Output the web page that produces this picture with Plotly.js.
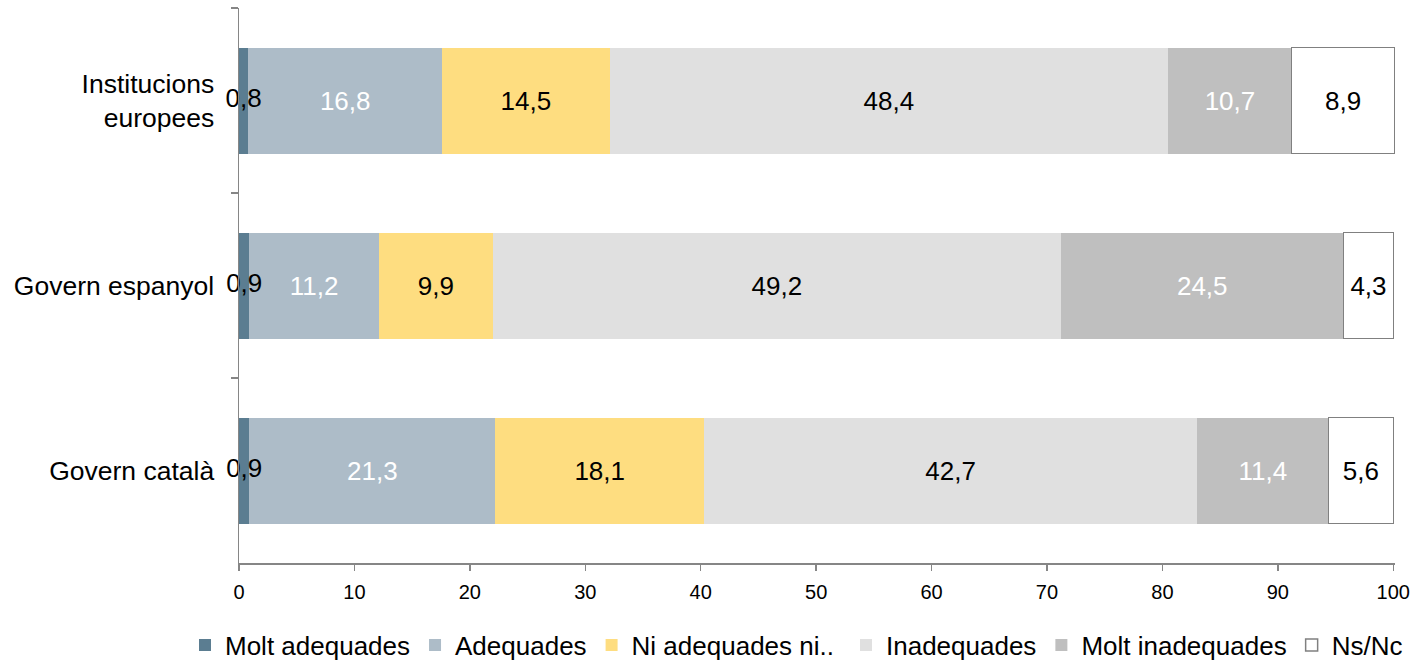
<!DOCTYPE html>
<html>
<head>
<meta charset="utf-8">
<script src="https://cdn.plot.ly/plotly-3.0.1.min.js"></script>
<style>html,body{margin:0;padding:0;background:#fff;}#chart{width:1423px;height:662px;}</style>
</head>
<body>
<div id="chart"></div>
<script>
var categories = ["Institucions<br>europees", "Govern espanyol", "Govern català"];
var seriesNames = ["Molt adequades", "Adequades", "Ni adequades ni..", "Inadequades", "Molt inadequades", "Ns/Nc"];
var moltAdequades = [0.8, 0.9, 0.9];
var adequades = [16.8, 11.2, 21.3];
var niAdequades = [14.5, 9.9, 18.1];
var inadequades = [48.4, 49.2, 42.7];
var moltInadequades = [10.7, 24.5, 11.4];
var nsNc = [8.9, 4.3, 5.6];
var xTicks = [0, 10, 20, 30, 40, 50, 60, 70, 80, 90, 100];

var values = [moltAdequades, adequades, niAdequades, inadequades, moltInadequades, nsNc];
var fills = ["#5b7d91", "#adbcc8", "#fedd80", "#e0e0e0", "#bfbfbf", "#ffffff"];
var textColors = ["#000000", "#ffffff", "#000000", "#000000", "#ffffff", "#000000"];
var legendOf = ["legend", "legend", "legend", "legend2", "legend2", "legend2"];
var FONT = "Liberation Sans, Arial, sans-serif";

function fmt(v) { return v.toFixed(1).replace(".", ","); }

var traces = values.map(function (vals, i) {
  var t = {
    type: "bar",
    orientation: "h",
    name: seriesNames[i],
    legend: legendOf[i],
    y: categories,
    x: vals,
    marker: {
      color: fills[i],
      line: { color: i === 5 ? "#808080" : "rgba(0,0,0,0)", width: i === 5 ? 1.5 : 0 }
    },
    hoverinfo: "x+name"
  };
  if (i > 0) {
    t.text = vals.map(fmt);
    t.textposition = "inside";
    t.insidetextanchor = "middle";
    t.constraintext = "none";
    t.textangle = 0;
    t.textfont = { family: FONT, size: 26, color: textColors[i] };
  } else {
    t.textposition = "none";
  }
  return t;
});

// labels for the thin first segment, drawn above all bars
traces.push({
  type: "scatter",
  mode: "text",
  showlegend: false,
  x: moltAdequades.map(function (v) { return v / 2; }),
  y: categories,
  text: moltAdequades.map(fmt),
  textposition: "middle center",
  cliponaxis: false,
  textfont: { family: FONT, size: 26, color: textColors[0] },
  hoverinfo: "skip"
});

function legendBox(xPx) {
  return {
    orientation: "h",
    xref: "container",
    x: xPx / 1423,
    xanchor: "left",
    yref: "container",
    y: 17 / 662,
    yanchor: "middle",
    font: { family: FONT, size: 26, color: "#000000" },
    traceorder: "normal",
    itemwidth: 30,
    bgcolor: "rgba(0,0,0,0)"
  };
}

var layout = {
  width: 1423,
  height: 662,
  barmode: "stack",
  bargap: 0.427,
  paper_bgcolor: "#ffffff",
  plot_bgcolor: "#ffffff",
  margin: { l: 239, r: 28, t: 8, b: 99 },
  font: { family: FONT, color: "#000000" },
  separators: ",.",
  showlegend: true,
  legend: legendBox(185),
  legend2: legendBox(846),
  xaxis: {
    range: [0, 100.15],
    tickvals: xTicks,
    ticktext: xTicks.map(String),
    showgrid: false,
    zeroline: false,
    showline: true,
    linecolor: "#868686",
    linewidth: 1.5,
    ticks: "outside",
    ticklen: 6,
    tickwidth: 1.5,
    tickcolor: "#868686",
    ticklabelstandoff: 4,
    tickfont: { family: FONT, size: 20, color: "#000000" },
    fixedrange: true
  },
  yaxis: {
    type: "category",
    categoryorder: "array",
    categoryarray: categories,
    autorange: "reversed",
    showgrid: false,
    zeroline: false,
    showline: true,
    linecolor: "#868686",
    linewidth: 1.5,
    ticks: "outside",
    tickson: "boundaries",
    ticklen: 7,
    tickwidth: 1.5,
    tickcolor: "#868686",
    ticklabelstandoff: 18,
    tickfont: { family: FONT, size: 26.5, color: "#000000" },
    fixedrange: true
  }
};

Plotly.newPlot("chart", traces, layout, { displayModeBar: false, staticPlot: true });
</script>
</body>
</html>
